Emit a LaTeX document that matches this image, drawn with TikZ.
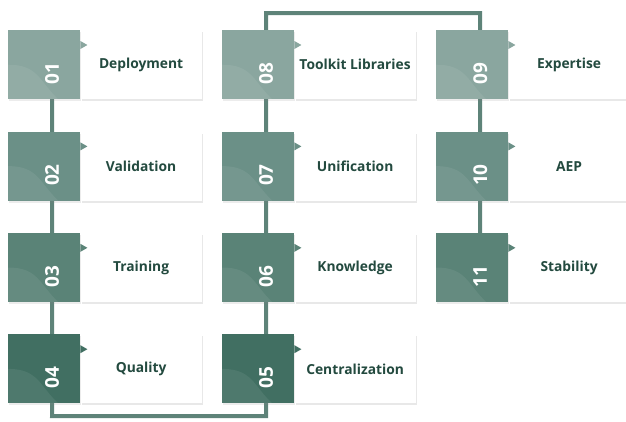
\documentclass[tikz,border=0pt]{standalone}
\usepackage{fontspec}
\setmainfont{Open Sans}
\usetikzlibrary{positioning,shadows,backgrounds}
\definecolor{rowone}{HTML}{8AA69F}
\definecolor{rowtwo}{HTML}{6B9087}
\definecolor{rowthree}{HTML}{5A8377}
\definecolor{rowfour}{HTML}{416F62}
\definecolor{linkgreen}{HTML}{5E8379}
\definecolor{textgreen}{HTML}{234A3F}

\begin{document}
\begin{tikzpicture}[x=1pt,y=-1pt,
sq/.style ={fill=#1, minimum width=72pt, minimum height=69pt, inner sep=0pt,
  drop shadow={shadow xshift=1pt, shadow yshift=-2pt, opacity=.15},
  path picture={\fill[white,opacity=.07] (path picture bounding box.west)
    .. controls ([xshift=30pt]path picture bounding box.west) and ([xshift=-5pt,yshift=18pt]path picture bounding box.south)
    .. ([xshift=14pt]path picture bounding box.south) -- (path picture bounding box.south west) -- cycle;}},
box/.style ={fill=white, minimum width=121pt, minimum height=69pt, inner sep=0pt,
  drop shadow={shadow xshift=1.5pt, shadow yshift=-2pt, opacity=.18},
  text=textgreen, font=\bfseries\fontsize{13.8}{16}\selectfont},
num/.style ={rotate=90, text=white, inner sep=0pt, font=\bfseries\fontsize{19}{19}\selectfont},
link/.style ={draw=linkgreen, line width=4pt}]
\useasboundingbox (0,0) rectangle (626,421);

% first column
\node[sq=rowone, anchor=north west] (s01) at (8,30) {};
\node[sq=rowtwo, below=32pt of s01] (s02) {};
\node[sq=rowthree, below=32pt of s02] (s03) {};
\node[sq=rowfour, below=32pt of s03] (s04) {};
% second column
\node[sq=rowone, anchor=north west] (s08) at (222,30) {};
\node[sq=rowtwo, below=32pt of s08] (s07) {};
\node[sq=rowthree, below=32pt of s07] (s06) {};
\node[sq=rowfour, below=32pt of s06] (s05) {};
% third column
\node[sq=rowone, anchor=north west] (s09) at (436,30) {};
\node[sq=rowtwo, below=32pt of s09] (s10) {};
\node[sq=rowthree, below=32pt of s10] (s11) {};

\node[box, right=0pt of s01] (b01) {Deployment};
\node[box, right=0pt of s02] (b02) {Validation};
\node[box, right=0pt of s03] (b03) {Training};
\node[box, right=0pt of s04] (b04) {Quality};
\node[box, right=0pt of s05] (b05) {Centralization};
\node[box, right=0pt of s06] (b06) {Knowledge};
\node[box, right=0pt of s07] (b07) {Unification};
\node[box, right=0pt of s08] (b08) {Toolkit Libraries};
\node[box, right=0pt of s09] (b09) {Expertise};
\node[box, right=0pt of s10] (b10) {AEP};
\node[box, right=0pt of s11] (b11) {Stability};

% tabs
\fill[rowone] (s01.north east) ++(0,11) -- ++(7,4) -- ++(-7,4) -- cycle;
\fill[rowtwo] (s02.north east) ++(0,11) -- ++(7,4) -- ++(-7,4) -- cycle;
\fill[rowthree] (s03.north east) ++(0,11) -- ++(7,4) -- ++(-7,4) -- cycle;
\fill[rowfour] (s04.north east) ++(0,11) -- ++(7,4) -- ++(-7,4) -- cycle;
\fill[rowfour] (s05.north east) ++(0,11) -- ++(7,4) -- ++(-7,4) -- cycle;
\fill[rowthree] (s06.north east) ++(0,11) -- ++(7,4) -- ++(-7,4) -- cycle;
\fill[rowtwo] (s07.north east) ++(0,11) -- ++(7,4) -- ++(-7,4) -- cycle;
\fill[rowone] (s08.north east) ++(0,11) -- ++(7,4) -- ++(-7,4) -- cycle;
\fill[rowone] (s09.north east) ++(0,11) -- ++(7,4) -- ++(-7,4) -- cycle;
\fill[rowtwo] (s10.north east) ++(0,11) -- ++(7,4) -- ++(-7,4) -- cycle;
\fill[rowthree] (s11.north east) ++(0,11) -- ++(7,4) -- ++(-7,4) -- cycle;

% numbers
\node[num] (n01) at ([xshift=8pt,yshift=-9pt]s01.center) {01};
\node[num] (n02) at ([xshift=8pt,yshift=-9pt]s02.center) {02};
\node[num] (n03) at ([xshift=8pt,yshift=-9pt]s03.center) {03};
\node[num] (n04) at ([xshift=8pt,yshift=-9pt]s04.center) {04};
\node[num] (n05) at ([xshift=8pt,yshift=-9pt]s05.center) {05};
\node[num] (n06) at ([xshift=8pt,yshift=-9pt]s06.center) {06};
\node[num] (n07) at ([xshift=8pt,yshift=-9pt]s07.center) {07};
\node[num] (n08) at ([xshift=8pt,yshift=-9pt]s08.center) {08};
\node[num] (n09) at ([xshift=8pt,yshift=-9pt]s09.center) {09};
\node[num] (n10) at ([xshift=8pt,yshift=-9pt]s10.center) {10};
\node[num] (n11) at ([xshift=8pt,yshift=-9pt]s11.center) {11};

% connector
\coordinate (c1) at (52,416);
\coordinate (c2) at (266,416);
\coordinate (c3) at (266,13);
\coordinate (c4) at (480,13);
\begin{scope}[on background layer]
\draw[link] ([xshift=8pt]s01.center) -- (c1) -- (c2) -- (c3) -- (c4) -- ([xshift=8pt]s11.center);
\end{scope}
\end{tikzpicture}
\end{document}
